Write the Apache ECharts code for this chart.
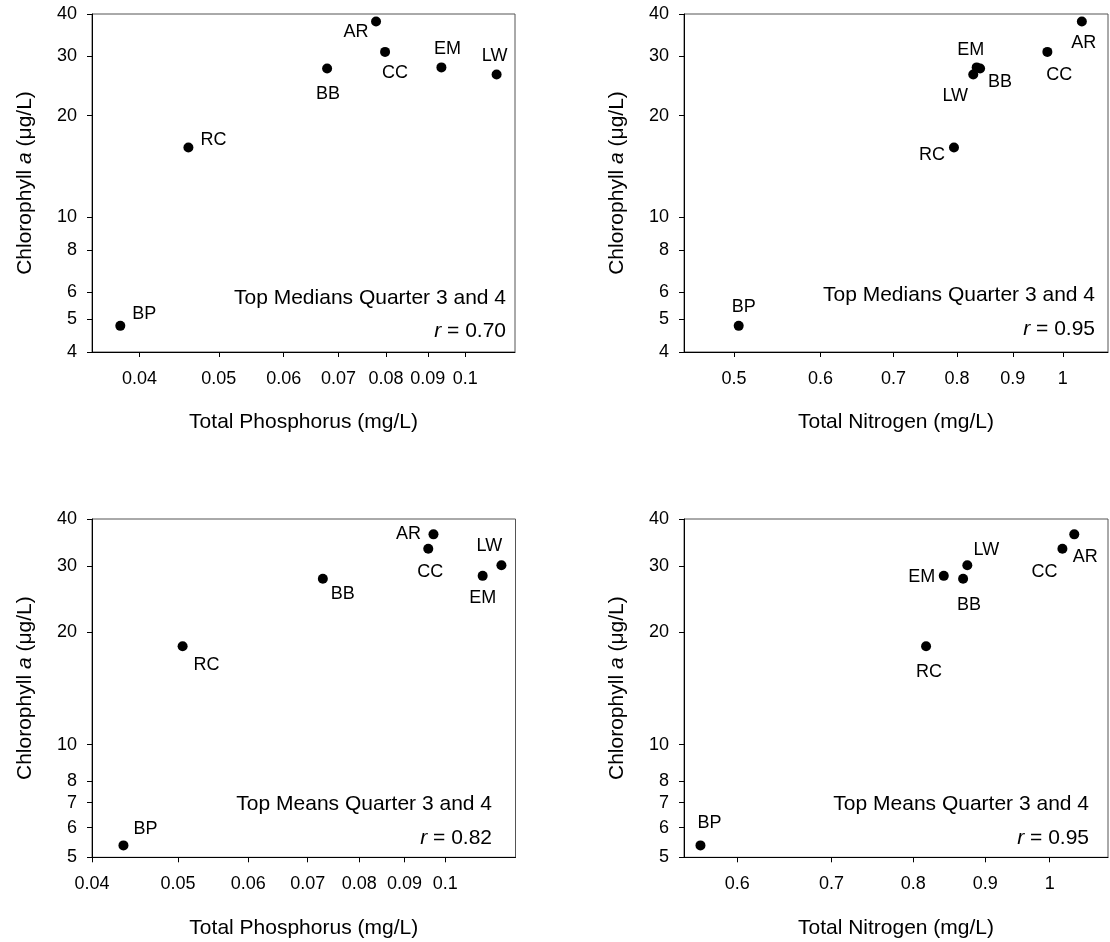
<!DOCTYPE html>
<html>
<head>
<meta charset="utf-8">
<script src="https://cdn.jsdelivr.net/npm/echarts@6/dist/echarts.min.js"></script>
<style>
html,body{margin:0;padding:0;background:#fff;}
#c{width:1110px;height:942px;}
</style>
</head>
<body>
<div id="c"></div>
<script>
// ---- data ----
const sites = ['AR', 'CC', 'BB', 'EM', 'LW', 'RC', 'BP'];
const tpMedian = [0.0778, 0.0798, 0.0678, 0.0935, 0.1092, 0.0459, 0.0379];
const tnMedian = [1.041, 0.968, 0.840, 0.834, 0.828, 0.795, 0.505];
const chlMedian = [38.0, 30.9, 27.6, 27.8, 26.5, 16.1, 4.78];
const tpMean = [0.0970, 0.0957, 0.0728, 0.1102, 0.1157, 0.0506, 0.0434];
const tnMean = [1.041, 1.021, 0.868, 0.841, 0.874, 0.817, 0.565];
const chlMean = [36.4, 33.3, 27.7, 28.2, 30.1, 18.3, 5.38];

const tpTicksTop = [0.04, 0.05, 0.06, 0.07, 0.08, 0.09, 0.1];
const tnTicksTop = [0.5, 0.6, 0.7, 0.8, 0.9, 1];
const tpTicksBottom = [0.04, 0.05, 0.06, 0.07, 0.08, 0.09, 0.1];
const tnTicksBottom = [0.6, 0.7, 0.8, 0.9, 1];
const chlTicksTop = [4, 5, 6, 8, 10, 20, 30, 40];
const chlTicksBottom = [5, 6, 7, 8, 10, 20, 30, 40];

const panelTitles = ['Top Medians Quarter 3 and 4', 'Top Medians Quarter 3 and 4', 'Top Means Quarter 3 and 4', 'Top Means Quarter 3 and 4'];
const rValues = ['0.70', '0.95', '0.82', '0.95'];
const xNames = ['Total Phosphorus (mg/L)', 'Total Nitrogen (mg/L)', 'Total Phosphorus (mg/L)', 'Total Nitrogen (mg/L)'];

// ---- layout / style ----
const FONT = '"Liberation Sans", Arial, Helvetica, sans-serif';
const panels = [
  {x: tpMedian, y: chlMedian, xTicks: tpTicksTop, yTicks: chlTicksTop, xMin: 0.035, xMax: 0.115, yMin: 4, yMax: 40,
   grid: {left: 92, top: 14, width: 423, height: 338}, ann: [506, 298, 331]},
  {x: tnMedian, y: chlMedian, xTicks: tnTicksTop, yTicks: chlTicksTop, xMin: 0.45, xMax: 1.1, yMin: 4, yMax: 40,
   grid: {left: 684, top: 14, width: 424, height: 338}, ann: [1095, 295, 329]},
  {x: tpMean, y: chlMean, xTicks: tpTicksBottom, yTicks: chlTicksBottom, xMin: 0.04, xMax: 0.12, yMin: 5, yMax: 40,
   grid: {left: 92, top: 519, width: 423.5, height: 338.3}, ann: [492, 804, 838]},
  {x: tnMean, y: chlMean, xTicks: tnTicksBottom, yTicks: chlTicksBottom, xMin: 0.55, xMax: 1.1, yMin: 5, yMax: 40,
   grid: {left: 684, top: 519, width: 424, height: 338.3}, ann: [1089, 804, 838]}
];
const labelOffsets = [
  {AR: [-20, 11], CC: [10, 21], BB: [1, 26], EM: [6, -18], LW: [-2, -18], RC: [25, -8], BP: [24, -12]},
  {AR: [2, 22], CC: [12, 23], BB: [20, 14], EM: [-6, -17], LW: [-18, 22], RC: [-22, 7], BP: [5, -19]},
  {AR: [-25, 0], CC: [2, 23], BB: [20, 15], EM: [0, 22], LW: [-12, -19], RC: [24, 19], BP: [22, -16]},
  {AR: [11, 23], CC: [-18, 23], BB: [6, 26], EM: [-22, 1], LW: [19, -15], RC: [3, 26], BP: [9, -22]}
];

const grids = [], xAxes = [], yAxes = [], series = [], graphics = [];
panels.forEach((p, i) => {
  grids.push(Object.assign({show: true, borderColor: '#555', borderWidth: 1, backgroundColor: 'transparent'}, p.grid));
  xAxes.push({
    type: 'log', logBase: 10, gridIndex: i, min: p.xMin, max: p.xMax,
    name: xNames[i], nameLocation: 'middle', nameGap: 60,
    nameTextStyle: {fontSize: 21, color: '#000', fontFamily: FONT},
    axisLine: {show: true, onZero: false, lineStyle: {color: '#000', width: 1}},
    axisTick: {show: true, inside: false, length: 5, customValues: p.xTicks, lineStyle: {color: '#000'}},
    minorTick: {show: false},
    axisLabel: {customValues: p.xTicks, margin: 18, fontSize: 18, color: '#000', fontFamily: FONT,
      formatter: v => String(+Number(v).toPrecision(6))},
    splitLine: {show: false}
  });
  yAxes.push({
    type: 'log', logBase: 10, gridIndex: i, min: p.yMin, max: p.yMax,
    name: 'Chlorophyll {i|a} (μg/L)', nameLocation: 'middle', nameGap: 56,
    nameTextStyle: {fontSize: 21, color: '#000', fontFamily: FONT,
      rich: {i: {fontStyle: 'italic', fontSize: 21, color: '#000', fontFamily: FONT}}},
    axisLine: {show: true, onZero: false, lineStyle: {color: '#000', width: 1}},
    axisTick: {show: true, inside: false, length: 5, customValues: p.yTicks, lineStyle: {color: '#000'}},
    minorTick: {show: false},
    axisLabel: {customValues: p.yTicks, margin: 15, fontSize: 18, color: '#000', fontFamily: FONT,
      formatter: v => String(+Number(v).toPrecision(6))},
    splitLine: {show: false}
  });
  const offs = labelOffsets[i];
  series.push({
    type: 'scatter', xAxisIndex: i, yAxisIndex: i, symbol: 'circle', symbolSize: 10,
    itemStyle: {color: '#000', opacity: 1},
    label: {show: true, position: 'inside', formatter: '{b}', fontSize: 18, color: '#000', opacity: 1, fontFamily: FONT},
    labelLayout: function (params) {
      const o = offs[sites[params.dataIndex]] || [0, 0];
      return {dx: o[0], dy: o[1], hideOverlap: false};
    },
    data: sites.map((s, k) => ({name: s, value: [p.x[k], p.y[k]]}))
  });
  graphics.push({
    type: 'text', x: p.ann[0], y: p.ann[1],
    style: {text: panelTitles[i], align: 'right', verticalAlign: 'middle', fontSize: 21, fontFamily: FONT, fill: '#000'}
  });
  graphics.push({
    type: 'text', x: p.ann[0], y: p.ann[2],
    style: {text: '{i|r} = ' + rValues[i], align: 'right', verticalAlign: 'middle', fontSize: 21, fontFamily: FONT, fill: '#000',
      rich: {i: {fontStyle: 'italic', fontSize: 21, fontFamily: FONT, fill: '#000'}}}
  });
});

const chart = echarts.init(document.getElementById('c'), null, {renderer: 'canvas'});
chart.setOption({
  animation: false,
  backgroundColor: '#fff',
  textStyle: {fontFamily: FONT},
  grid: grids,
  xAxis: xAxes,
  yAxis: yAxes,
  series: series,
  graphic: graphics
});
</script>
</body>
</html>
